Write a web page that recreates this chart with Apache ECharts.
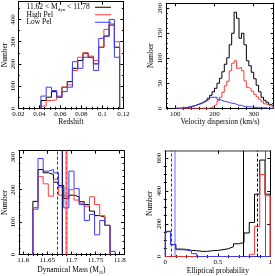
<!DOCTYPE html>
<html><head><meta charset="utf-8">
<script src="https://cdn.jsdelivr.net/npm/echarts@6/dist/echarts.min.js"></script>
<style>html,body{margin:0;padding:0;background:#fff}#c{width:275px;height:276px}</style>
</head><body><div id="c"></div>
<script>
// ---------- Panel 1: redshift ----------
const zBinStart = 0.0415, zBinWidth = 0.005;
const zAll  = [35, 50, 75, 50, 95, 120, 180, 215, 248, 230, 200, 275, 325, 375, 275];
const zHigh = [10, 35, 38, 55, 95, 105, 170, 230, 250, 235, 215, 275, 355, 380, 300];
const zLow  = [55, 95, 80, 50, 75, 95, 210, 180, 230, 228, 170, 315, 325, 400, 230];
const zTicks = [0.02, 0.04, 0.06, 0.08, 0.1, 0.12];
const zCountTicks = [0, 100, 200, 300, 400];

// ---------- Panel 2: velocity dispersion ----------
const vBinStart = 100, vBinWidth = 6.25;
const vAll  = [0,0,0,1,1,3,4,5,7,9,11,14,16,20,26,33,40,50,60,73,88,101,127,150,192,180,140,150,127,95,85,72,59,46,33,22,16,12,8,5];
const vHigh = [0,0,0,0,0,0,0,0,0,0,0,0,0,0,2,5,8,15,22,32,45,54,75,90,95,80,82,75,55,42,39,34,28,23,18,13,9,7,5,4];
const vLow  = [0,0,1,1,2,3,4,5,7,8,10,12,15,18,22,22,22,18,16,14,13,12,10,10,8,6,6,4,3,3,3,2,2,1,1,1,1,0,0,0];
const vTicks = [100, 200, 300];
const vCountTicks = [0, 50, 100, 150, 200];

// ---------- Panel 3: dynamical mass ----------
const mBinStart = 11.62, mBinWidth = 0.16 / 15;
const mAll  = [164, 262, 252, 247, 223, 213, 173, 183, 178, 163, 154, 134, 120, 115, 90];
const mHigh = [145, 240, 218, 180, 232, 183, 178, 200, 168, 158, 149, 178, 154, 120, 90];
const mLow  = [140, 296, 257, 262, 252, 208, 144, 257, 203, 154, 105, 124, 61, 105, 90, 10];
const mTicks = [11.6, 11.65, 11.7, 11.75, 11.8];
const mCountTicks = [0, 100, 200, 300];
const mMedian = {all: 11.6847, high: 11.69, low: 11.6813};
const mMean   = {all: 11.6787, high: 11.6873, low: 11.6733};

// ---------- Panel 4: elliptical probability ----------
const pBinStart = 0, pBinWidth = 0.05;
const pAll  = [154, 74, 46, 44, 38, 36, 32, 32, 36, 38, 42, 48, 60, 78, 86, 144, 208, 380, 588, 380];
const pHigh = [0,0,0,0,0,0,0,0,0,0,0,0,0,0,0,0,14,184,500,370];
const pLow  = [152, 72, 42, 40, 34, 18, 0,0,0,0,0,0,0,0,0,0,0,0,0,0];
const pTicks = [0, 0.5, 1];
const pCountTicks = [0, 200, 400, 600];
const pMedian = {all: 0.743, high: 0.95, low: 0.087};
const pMean   = {all: 0.882, low: 0.062};

const legendLabels = ['11.62 < M{s|dyn} < 11.78', 'High Pel', 'Low Pel'];

// ---------- helpers ----------
const FONT = 'Liberation Serif';
const txt = {color: '#000', fontFamily: FONT, fontSize: 7, fontWeight: 'normal'};
const nameTxt = {color: '#000', fontFamily: FONT, fontSize: 7.5, fontWeight: 'normal'};
const COL = {all: '#000000', high: '#ff3a3a', low: '#3a3aff'};
const subStyle = {fontFamily: FONT, fontSize: 5, fontWeight: 'normal', color: '#000', lineHeight: 5, verticalAlign: 'bottom'};

function steps(start, width, counts) {
  const d = [[start, 0]];
  counts.forEach((c, i) => d.push([start + i * width, c]));
  d.push([start + counts.length * width, 0]);
  return d;
}
function minorVals(min, max, step, majors) {
  const out = [];
  const s = Math.ceil(min / step - 1e-9);
  for (let k = s; k * step <= max + 1e-9; k++) {
    const v = +(k * step).toFixed(6);
    if (!majors.some(m => Math.abs(m - v) < step * 1e-3)) out.push(v);
  }
  return out;
}
function axesFor(dim, gi, min, max, majors, minorStep, labelCfg, name, nameGap, topLine, nameExtra) {
  const posA = dim === 'x' ? 'bottom' : 'left', posB = dim === 'x' ? 'top' : 'right';
  const minors = minorVals(min, max, minorStep, majors);
  const base = {type: 'value', gridIndex: gi, min, max, splitLine: {show: false}, axisPointer: {show: false}, silent: true};
  const line = {show: true, onZero: false, lineStyle: {color: '#000', width: 1}};
  const tickMaj = {show: true, inside: true, length: 3, customValues: majors, lineStyle: {color: '#000', width: 1}};
  const tickMin = {show: true, inside: true, length: 1.5, customValues: minors, lineStyle: {color: '#000', width: 1}};
  return [
    Object.assign({}, base, {position: posA, axisLine: line, axisTick: tickMaj,
      axisLabel: Object.assign({show: true, customValues: majors, formatter: v => String(+v.toFixed(4))}, txt, labelCfg),
      name: name, nameLocation: 'middle', nameGap: nameGap,
      nameTextStyle: Object.assign({}, nameTxt, nameExtra || {}, {rich: {s: subStyle}})}),
    Object.assign({}, base, {position: posA, axisLine: {show: false}, axisTick: tickMin, axisLabel: {show: false}}),
    Object.assign({}, base, {position: posB, axisLine: topLine || line, axisTick: tickMaj, axisLabel: {show: false}}),
    Object.assign({}, base, {position: posB, axisLine: {show: false}, axisTick: tickMin, axisLabel: {show: false}})
  ];
}
function histSeries(gi, key, start, width, counts, marks) {
  const s = {
    type: 'line', name: key, xAxisIndex: 4 * gi, yAxisIndex: 4 * gi,
    data: steps(start, width, counts), step: 'end', showSymbol: false, symbol: 'none',
    silent: true, animation: false, clip: true,
    lineStyle: {color: COL[key], width: 1}, itemStyle: {color: COL[key]}
  };
  if (marks && marks.length) {
    s.markLine = {symbol: 'none', silent: true, animation: false, label: {show: false},
      data: marks.map(m => ({xAxis: m.v, lineStyle: m.style}))};
  }
  return s;
}

const grids = [
  {left: 12.3, top: 1.7, width: 111, height: 106.6},
  {left: 166.3, top: 1.7, width: 107.4, height: 106.6},
  {left: 15.7, top: 150.7, width: 108.3, height: 108},
  {left: 165.3, top: 150.7, width: 108.4, height: 108}
];

const yLab = m => ({rotate: 90, margin: m});
const xAxes = [].concat(
  axesFor('x', 0, 0.02, 0.12, zTicks, 0.005, {margin: 2}, 'Redshift', 9),
  axesFor('x', 1, 77, 351, vTicks, 20, {margin: 2}, 'Velocity dispersion (km/s)', 9),
  axesFor('x', 2, 11.591, 11.809, mTicks, 0.01, {margin: 2.5}, 'Dynamical Mass (M{s|\u2299})', 6.5, null, {lineHeight: 10}),
  axesFor('x', 3, 0, 1, pTicks, 0.1, {margin: 2.5}, 'Elliptical probability', 8,
    {show: true, onZero: false, lineStyle: {color: '#999', width: 2}})
);
const yAxes = [].concat(
  axesFor('y', 0, 0, 480, zCountTicks, 50, yLab(1.5), 'Number', 6),
  axesFor('y', 1, 0, 210, vCountTicks, 10, yLab(3), 'Number', 10.5),
  axesFor('y', 2, 0, 320, mCountTicks, 20, yLab(2), 'Number', 9.5),
  axesFor('y', 3, 0, 645, pCountTicks, 50, yLab(3), 'Number', 10)
);

const dashed = c => ({color: c, width: 1, type: [3, 2]});
const series = [
  histSeries(0, 'all', zBinStart, zBinWidth, zAll),
  histSeries(0, 'high', zBinStart, zBinWidth, zHigh),
  histSeries(0, 'low', zBinStart, zBinWidth, zLow),
  histSeries(1, 'all', vBinStart, vBinWidth, vAll),
  histSeries(1, 'high', vBinStart, vBinWidth, vHigh),
  histSeries(1, 'low', vBinStart, vBinWidth, vLow),
  histSeries(2, 'all', mBinStart, mBinWidth, mAll, [
    {v: mMean.all, style: dashed('#000')}, {v: mMedian.all, style: {color: '#000', width: 1, type: 'solid'}}]),
  histSeries(2, 'high', mBinStart, mBinWidth, mHigh, [
    {v: mMean.high, style: dashed('#ff4040')}, {v: mMedian.high, style: {color: 'rgba(255,60,60,0.5)', width: 3, type: 'solid'}}]),
  histSeries(2, 'low', mBinStart, mBinWidth, mLow, [
    {v: mMean.low, style: dashed('#2020ff')}, {v: mMedian.low, style: {color: 'rgba(60,60,255,0.5)', width: 1.5, type: 'solid'}}]),
  histSeries(3, 'all', pBinStart, pBinWidth, pAll, [
    {v: pMean.all, style: dashed('#000')}, {v: pMedian.all, style: {color: '#000', width: 1, type: 'solid'}}]),
  histSeries(3, 'high', pBinStart, pBinWidth, pHigh, [
    {v: pMedian.high, style: {color: '#ff2020', width: 1, type: 'solid'}}]),
  histSeries(3, 'low', pBinStart, pBinWidth, pLow, [
    {v: pMean.low, style: dashed('#2020ff')}, {v: pMedian.low, style: {color: 'rgba(60,60,255,0.5)', width: 1.5, type: 'solid'}}])
];

const legendText = i => Object.assign({}, txt, {fontSize: 7.5, lineHeight: i === 0 ? 10 : 7.5, fontWeight: 'normal', rich: {s: subStyle}});

const chart = echarts.init(document.getElementById('c'), null, {renderer: 'canvas'});
chart.setOption({
  animation: false,
  backgroundColor: '#fff',
  grid: grids,
  xAxis: xAxes,
  yAxis: yAxes,
  title: legendLabels.map((t, i) => ({
    text: t, left: 26.5, top: (i === 0 ? 2.3 : 3.5 + i * 7.5), padding: 0, textStyle: legendText(i)
  })),
  legend: {
    show: true, left: 95, top: 3.5, orient: 'vertical', align: 'left', icon: 'rect',
    itemWidth: 16, itemHeight: 1, itemGap: 0, selectedMode: false, padding: 0,
    data: ['all', 'high', 'low'],
    formatter: () => '\u00a0',
    textStyle: Object.assign({}, txt, {lineHeight: 7.5, fontSize: 7})
  },
  series: series
});
</script>
</body></html>
